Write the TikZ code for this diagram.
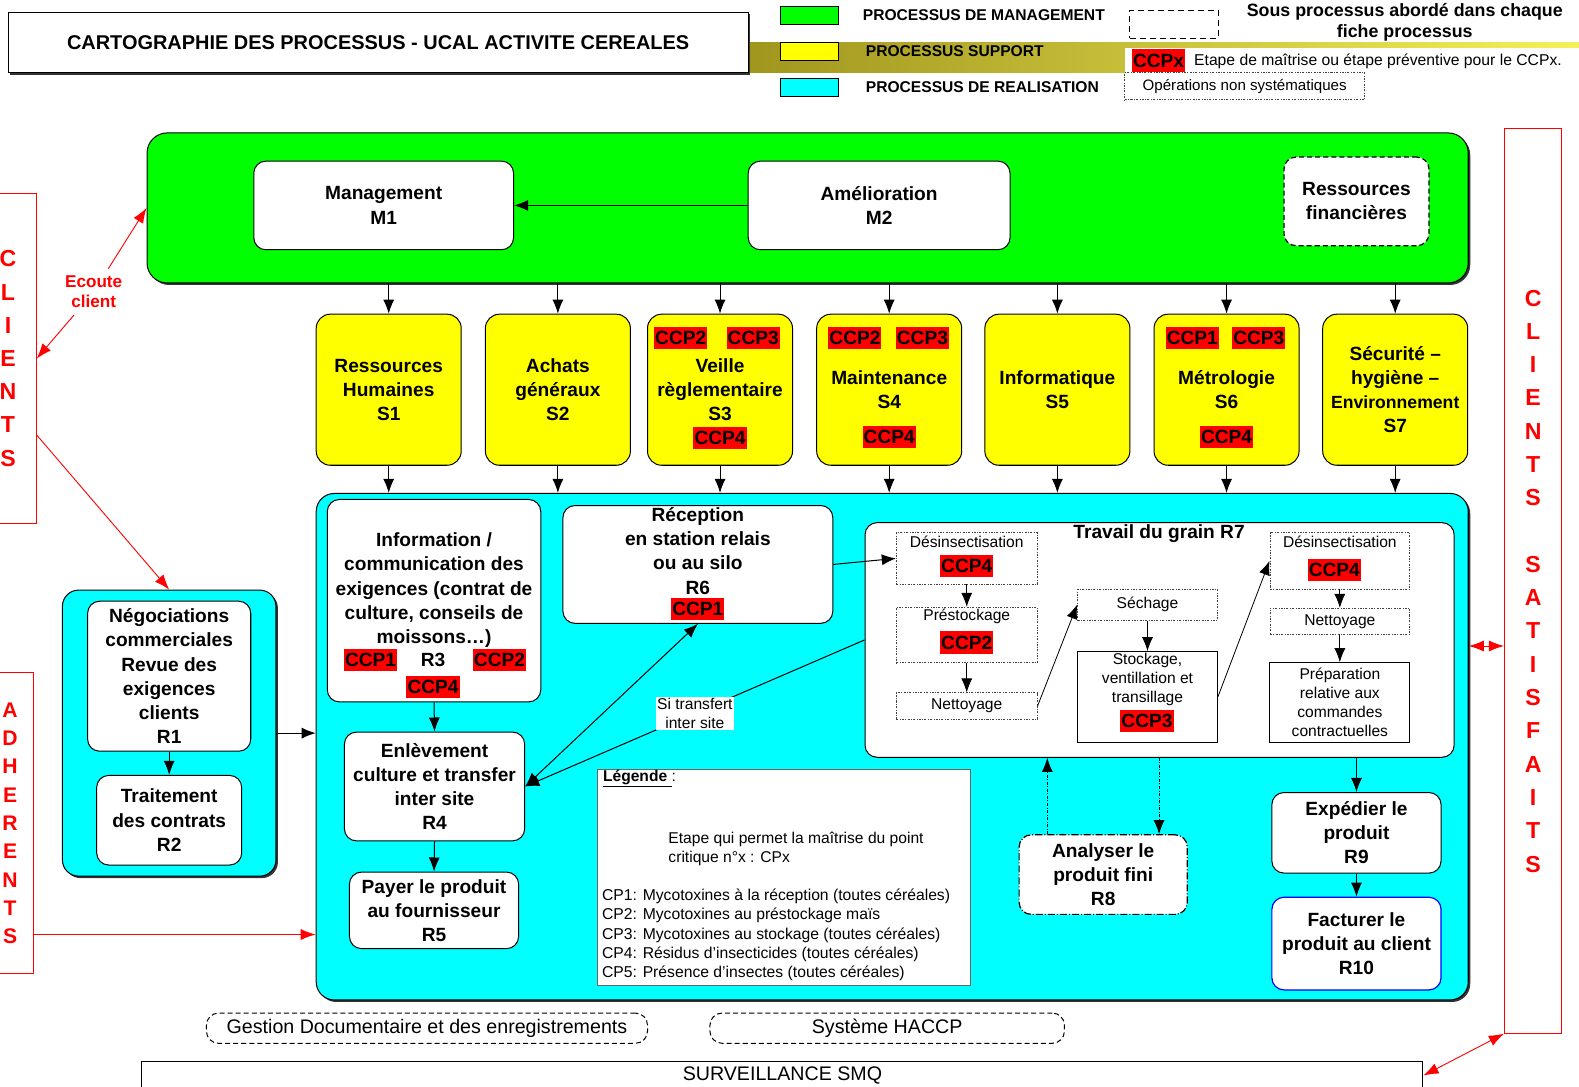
\documentclass[tikz,border=0pt]{standalone}
\usepackage{fontspec}
\setmainfont{Liberation Sans}
\usetikzlibrary{arrows.meta,shadows}

\definecolor{mgmtgreen}{RGB}{0,255,0}
\definecolor{supyellow}{RGB}{255,255,0}
\definecolor{realcyan}{RGB}{0,255,255}
\definecolor{ccpred}{RGB}{255,0,0}
\definecolor{factblue}{RGB}{0,0,255}

\tikzset{
  bigtxt/.style={font=\fontsize{19}{24}\selectfont\bfseries, align=center},
  smalltxt/.style={font=\fontsize{15.5}{19}\selectfont, align=center},
  ccp/.style={fill=ccpred, inner sep=1pt, minimum height=22pt, font=\fontsize{19}{22}\selectfont\bfseries},
  rbox/.style={draw, line width=1pt, rounded corners=12pt, fill=white, bigtxt, inner sep=0pt},
  ybox/.style={rbox, fill=supyellow, rounded corners=14pt, minimum width=144pt, minimum height=150pt},
  subbox/.style={draw=black!75, fill=white, line width=0.7pt, dash pattern=on 2pt off 1.5pt on 0.6pt off 1.5pt, inner sep=0pt, smalltxt},
  plainbox/.style={draw, fill=white, line width=0.8pt, inner sep=0pt, smalltxt},
  dashbox/.style={draw, line width=1pt, dash pattern=on 5pt off 3pt, rounded corners=12pt, inner sep=0pt, font=\fontsize{19.5}{22}\selectfont},
  redbox/.style={draw=ccpred, line width=1pt, text=ccpred, align=center, inner sep=0pt},
  redarrow/.style={ccpred, line width=0.9pt, >={Latex[length=15pt, width=11pt]}},
  legsq/.style={draw, minimum width=58pt, minimum height=18pt, inner sep=0pt},
  legtxt/.style={anchor=west, font=\fontsize{15.5}{18}\selectfont\bfseries},
  shad/.style={drop shadow={shadow xshift=2pt, shadow yshift=-2pt, opacity=1, fill=black!80}},
}

\begin{document}
\begin{tikzpicture}[x=1pt, y=-1pt, line width=1pt, >={Latex[length=14pt, width=11pt]}]
\useasboundingbox (0,0) rectangle (1568,1079);

% Title and header band
\shade[left color={rgb,255:red,160;green,150;blue,30}, middle color={rgb,255:red,232;green,222;blue,40}, right color={rgb,255:red,245;green,240;blue,90}] (743,42) rectangle (1568,72);
\node[draw, line width=1pt, fill=white, shad, minimum width=735pt, minimum height=60pt, font=\fontsize{19.8}{22}\selectfont\bfseries] (title) at (375.5,42) {CARTOGRAPHIE DES PROCESSUS - UCAL ACTIVITE CEREALES};

% Legend of the process types
\node[legsq, fill=mgmtgreen] (legman) at (804,15) {};
\node[legsq, fill=supyellow] (legsup) at (804,51) {};
\node[legsq, fill=realcyan] (legrea) at (804,87) {};
\node[legtxt] (legmantxt) at (853,15) {PROCESSUS DE MANAGEMENT};
\node[legtxt] (legsuptxt) at (856,51) {PROCESSUS SUPPORT};
\node[legtxt] (legreatxt) at (856,87) {PROCESSUS DE REALISATION};
\node[draw, line width=1pt, dash pattern=on 6pt off 4pt, minimum width=88pt, minimum height=28pt] (legsous) at (1166,24) {};
\node[font=\fontsize{17.7}{21}\selectfont\bfseries, align=center] (legsoustxt) at (1395,22.5) {Sous processus abordé dans chaque\\fiche processus};
\node[fill=white, minimum width=451pt, minimum height=24pt, inner sep=0pt] (legccpbg) at (1342.5,60) {};
\node[ccp] (legccp) at (1150.5,60) {CCPx};
\node[anchor=west, font=\fontsize{15.6}{17}\selectfont] (legccptxt) at (1182,61) {Etape de maîtrise ou étape préventive pour le CCPx.};
\node[subbox, minimum width=238pt, minimum height=27pt, font=\fontsize{15}{18}\selectfont] (legops) at (1236,85.5) {Opérations non systématiques};

% Management processes
\node[rbox, fill=mgmtgreen, rounded corners=20pt, shad, minimum width=1312pt, minimum height=149pt] (mgmt) at (802,206.5) {};
\node[rbox, minimum width=258pt, minimum height=88pt] (m1) at (381,204) {Management\\M1};
\node[rbox, minimum width=260pt, minimum height=88pt] (m2) at (873,204) {Amélioration\\M2};
\node[rbox, dash pattern=on 5pt off 3pt, line width=1.2pt, minimum width=144pt, minimum height=88pt] (rf) at (1347,200) {Ressources\\financières};
\draw[->] (m2.west) -- (m1.east);

% Support processes
\node[ybox] (s1) at (386,387) {Ressources\\Humaines\\S1};
\node[ybox] (s2) at (554,387) {Achats\\généraux\\S2};
\node[ybox] (s3) at (715,387) {Veille\\règlementaire\\S3};
\node[ybox] (s4) at (883,387) {Maintenance\\S4};
\node[ybox] (s5) at (1050,387) {Informatique\\S5};
\node[ybox] (s6) at (1218,387) {Métrologie\\S6};
\node[ybox] (s7) at (1385.5,387) {Sécurité --\\hygiène --\\{\fontsize{17.5}{22}\selectfont Environnement}\\S7};

\node[ccp] (s3a) at (676,336) {CCP2};
\node[ccp] (s3b) at (748,336) {CCP3};
\node[ccp] (s3c) at (715,435) {CCP4};
\node[ccp] (s4a) at (849,336) {CCP2};
\node[ccp] (s4b) at (916,336) {CCP3};
\node[ccp] (s4c) at (883,434) {CCP4};
\node[ccp] (s6a) at (1184,336) {CCP1};
\node[ccp] (s6b) at (1250,336) {CCP3};
\node[ccp] (s6c) at (1218,434) {CCP4};

% Realisation processes
\node[rbox, fill=realcyan, rounded corners=18pt, shad, minimum width=1144pt, minimum height=503pt] (real) at (886,741.5) {};

% Arrows management -> support -> realisation
\draw[->] (s1.north |- mgmt.south) -- (s1.north);
\draw[->] (s2.north |- mgmt.south) -- (s2.north);
\draw[->] (s3.north |- mgmt.south) -- (s3.north);
\draw[->] (s4.north |- mgmt.south) -- (s4.north);
\draw[->] (s5.north |- mgmt.south) -- (s5.north);
\draw[->] (s6.north |- mgmt.south) -- (s6.north);
\draw[->] (s7.north |- mgmt.south) -- (s7.north);
\draw[->] (s1.south) -- (s1.south |- real.north);
\draw[->] (s2.south) -- (s2.south |- real.north);
\draw[->] (s3.south) -- (s3.south |- real.north);
\draw[->] (s4.south) -- (s4.south |- real.north);
\draw[->] (s5.south) -- (s5.south |- real.north);
\draw[->] (s6.south) -- (s6.south |- real.north);
\draw[->] (s7.south) -- (s7.south |- real.north);

% R3 information
\node[rbox, minimum width=212pt, minimum height=201pt] (r3) at (431,596.5) {};
\node[bigtxt] (r3txt) at (431,586) {Information /\\communication des\\exigences (contrat de\\culture, conseils de\\moissons…)};
\node[ccp] (r3a) at (368,655) {CCP1};
\node[bigtxt] (r3name) at (430,655) {R3};
\node[ccp] (r3b) at (496,655) {CCP2};
\node[ccp] (r3c) at (430,682) {CCP4};

% R6 reception
\node[rbox, minimum width=268pt, minimum height=117pt] (r6) at (693,560.5) {};
\node[bigtxt] (r6txt) at (693,547) {Réception\\en station relais\\ou au silo\\R6};
\node[ccp] (r6a) at (693,605) {CCP1};

% R4, R5
\node[rbox, minimum width=179pt, minimum height=108pt] (r4) at (431.5,781) {Enlèvement\\culture et transfer\\inter site\\R4};
\node[rbox, minimum width=168pt, minimum height=76pt] (r5) at (431,904) {Payer le produit\\au fournisseur\\R5};
\draw[->] (r3.south) -- (r4.north);
\draw[->] (r4.south) -- (r5.north);

% R7 grain work
\node[rbox, minimum width=585pt, minimum height=233pt] (r7) at (1151.5,635.5) {};
\node[bigtxt] (r7txt) at (1151,530) {Travail du grain R7};
\node[subbox, minimum width=140pt, minimum height=51pt] (desl) at (960,554.5) {};
\node[smalltxt] (desltxt) at (960,538) {Désinsectisation};
\node[ccp] (desla) at (960,562) {CCP4};
\node[subbox, minimum width=140pt, minimum height=55pt] (presl) at (960,630.5) {};
\node[smalltxt] (presltxt) at (960,612) {Préstockage};
\node[ccp] (presla) at (960,638) {CCP2};
\node[subbox, minimum width=140pt, minimum height=26pt] (nettl) at (960,701) {Nettoyage};
\node[subbox, minimum width=139pt, minimum height=31pt] (sech) at (1139.5,600.5) {Séchage};
\node[plainbox, minimum width=139pt, minimum height=90pt] (stock) at (1139.5,692) {};
\node[smalltxt] (stocktxt) at (1139.5,675) {Stockage,\\ventillation et\\transillage};
\node[ccp] (stocka) at (1139,716) {CCP3};
\node[subbox, minimum width=139pt, minimum height=56pt] (desr) at (1330.5,557) {};
\node[smalltxt] (desrtxt) at (1330.5,538) {Désinsectisation};
\node[ccp] (desra) at (1325,566) {CCP4};
\node[subbox, minimum width=139pt, minimum height=26pt] (nettr) at (1330.5,617) {Nettoyage};
\node[plainbox, minimum width=139pt, minimum height=79pt] (prep) at (1330.5,697.5) {Préparation\\relative aux\\commandes\\contractuelles};
\draw[->, line width=0.8pt] (desl.south) -- (presl.north);
\draw[->, line width=0.8pt] (presl.south) -- (nettl.north);
\draw[->, line width=0.8pt] (nettl.east) -- (sech.west);
\draw[->, line width=0.8pt] (sech.south) -- (stock.north);
\draw[->, line width=0.8pt] (stock.east) -- (desr.west);
\draw[->, line width=0.8pt] (desr.south) -- (nettr.north);
\draw[->, line width=0.8pt] (nettr.south) -- (prep.north);

% Links between realisation steps
\draw[->] (r6.east) -- (desl.west);
\draw[->] (r7.west) -- node[pos=0.5, fill=white, inner sep=1pt, smalltxt] (transf) {Si transfert\\inter site} (r4.east);
\draw[<->] (r6.south) -- (r4.east);

% Legend of the CCP
\node[draw=black!60, fill=white, line width=1pt, minimum width=371pt, minimum height=215pt] (leg) at (778.5,871.5) {};
\node[anchor=west, font=\fontsize{15.5}{19}\selectfont] (legtitle) at (595,773) {{\bfseries\underline{Légende~}}:};
\node[anchor=west, align=left, font=\fontsize{15.5}{19.5}\selectfont] (legcpx) at (660,843) {Etape qui permet la maîtrise du point\\critique n°x : CPx};
\node[anchor=west, align=left, font=\fontsize{15.6}{19.25}\selectfont] (legcp) at (594,928.5) {CP1: Mycotoxines à la réception (toutes céréales)\\CP2: Mycotoxines au préstockage maïs\\CP3: Mycotoxines au stockage (toutes céréales)\\CP4: Résidus d’insecticides (toutes céréales)\\CP5: Présence d’insectes (toutes céréales)};

% R8, R9, R10
\node[rbox, line width=1.2pt, dash pattern=on 7pt off 2pt on 1pt off 2pt, minimum width=167pt, minimum height=79pt] (r8) at (1095.5,868.5) {Analyser le\\produit fini\\R8};
\node[rbox, minimum width=168pt, minimum height=80pt] (r9) at (1347,827) {Expédier le\\produit\\R9};
\node[rbox, draw=factblue, line width=1.2pt, minimum width=168pt, minimum height=92pt] (r10) at (1347,937) {Facturer le\\produit au client\\R10};
\draw[->, dash pattern=on 3pt off 1.5pt on 1pt off 1.5pt] ([xshift=-55.5pt]r8.north) -- ([xshift=-55.5pt]r8.north |- r7.south);
\draw[->, dash pattern=on 3pt off 1.5pt on 1pt off 1.5pt] ([xshift=55.5pt]r8.north |- r7.south) -- ([xshift=55.5pt]r8.north);
\draw[->] (r9.north |- r7.south) -- (r9.north);
\draw[->] (r9.south) -- (r10.north);

% R1, R2 group
\node[rbox, fill=realcyan, rounded corners=16pt, shad, minimum width=212pt, minimum height=284pt] (grp) at (168,728) {};
\node[rbox, minimum width=162pt, minimum height=149pt] (r1) at (168,671.5) {Négociations\\commerciales\\Revue des\\exigences\\clients\\R1};
\node[rbox, minimum width=144pt, minimum height=89pt] (r2) at (168,814.5) {Traitement\\des contrats\\R2};
\draw[->] (r1.south) -- (r2.north);
\draw[->] (grp.east) -- (grp.east -| real.west);

% Clients and adherents
\node[redbox, minimum width=56pt, minimum height=328pt, font=\fontsize{23}{33}\selectfont\bfseries] (clil) at (8,356) {C\\L\\I\\E\\N\\T\\S};
\node[redbox, minimum width=46pt, minimum height=299pt, font=\fontsize{21}{28.1}\selectfont\bfseries] (adh) at (10,817.5) {A\\D\\H\\E\\R\\E\\N\\T\\S};
\node[text=ccpred, align=center, font=\fontsize{17}{20}\selectfont\bfseries] (ecoute) at (93,290) {Ecoute\\client};
\draw[redarrow, ->, shorten <=4pt] (ecoute) -- (mgmt.west);
\draw[redarrow, ->, shorten <=4pt] (ecoute) -- (clil.east);
\draw[redarrow, ->] ([yshift=-76pt]clil.east) -- (grp.north);
\draw[redarrow, ->] ([yshift=-110.5pt]adh.east) -- ([yshift=-110.5pt]adh.east -| real.west);

% Satisfied clients
\node[redbox, minimum width=57pt, minimum height=898pt, font=\fontsize{23}{33.06}\selectfont\bfseries] (clis) at (1522.5,577) {C\\L\\I\\E\\N\\T\\S\\[33.06pt]S\\A\\T\\I\\S\\F\\A\\I\\T\\S};
\draw[redarrow, <->] ([yshift=100pt]real.east) -- ([yshift=100pt]real.east -| clis.west);

% Documentation, HACCP and monitoring
\node[dashbox, minimum width=438pt, minimum height=30pt] (doc) at (424,1021) {Gestion Documentaire et des enregistrements};
\node[dashbox, minimum width=352pt, minimum height=30pt] (haccp) at (881,1021) {Système HACCP};
\node[draw, line width=1pt, fill=white, minimum width=1272pt, minimum height=28pt, font=\fontsize{19.5}{22}\selectfont] (smq) at (777,1068) {SURVEILLANCE SMQ};
\draw[redarrow, <->] (clis.south west) -- (smq.east);
\end{tikzpicture}
\end{document}
